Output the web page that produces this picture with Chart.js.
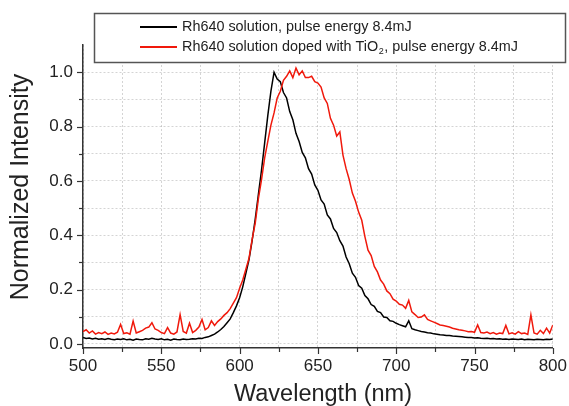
<!DOCTYPE html>
<html>
<head>
<meta charset="utf-8">
<script src="https://cdn.jsdelivr.net/npm/chart.js@4.4.1/dist/chart.umd.min.js"></script>
<style>
  html, body { margin: 0; padding: 0; background: #fff; }
  #wrap { width: 569px; height: 406px; position: relative; }
</style>
</head>
<body>
<div id="wrap"><canvas id="chart-canvas"></canvas></div>
<script>
// wavelength samples (nm), 2 nm apart
var WAVELENGTH = [
  500, 502, 504, 506, 508, 510, 512, 514, 516, 518,
  520, 522, 524, 526, 528, 530, 532, 534, 536, 538,
  540, 542, 544, 546, 548, 550, 552, 554, 556, 558,
  560, 562, 564, 566, 568, 570, 572, 574, 576, 578,
  580, 582, 584, 586, 588, 590, 592, 594, 596, 598,
  600, 602, 604, 606, 608, 610, 612, 614, 616, 618,
  620, 622, 624, 626, 628, 630, 632, 634, 636, 638,
  640, 642, 644, 646, 648, 650, 652, 654, 656, 658,
  660, 662, 664, 666, 668, 670, 672, 674, 676, 678,
  680, 682, 684, 686, 688, 690, 692, 694, 696, 698,
  700, 702, 704, 706, 708, 710, 712, 714, 716, 718,
  720, 722, 724, 726, 728, 730, 732, 734, 736, 738,
  740, 742, 744, 746, 748, 750, 752, 754, 756, 758,
  760, 762, 764, 766, 768, 770, 772, 774, 776, 778,
  780, 782, 784, 786, 788, 790, 792, 794, 796, 798,
  800
];

// Rh640 solution (black)
var RH640 = [
  .024, .020, .022, .018, .021, .017, .019, .016, .020, .017,
  .015, .018, .016, .019, .015, .017, .014, .018, .016, .015,
  .019, .017, .021, .018, .016, .019, .015, .017, .014, .018,
  .016, .015, .018, .016, .017, .019, .018, .021, .020, .024,
  .026, .031, .036, .044, .053, .064, .078, .092, .115, .140,
  .170, .210, .260, .310, .380, .460, .550, .640, .740, .840,
  .930, 1.00, .975, .965, .925, .905, .855, .825, .775, .745,
  .705, .685, .645, .625, .585, .565, .530, .515, .475, .460,
  .425, .410, .380, .360, .320, .295, .260, .245, .215, .205,
  .178, .166, .145, .138, .120, .115, .099, .097, .085, .083,
  .076, .071, .067, .063, .085, .056, .052, .049, .046, .044,
  .041, .040, .037, .036, .034, .033, .031, .031, .029, .028,
  .027, .026, .025, .024, .024, .022, .023, .021, .020, .021,
  .019, .020, .018, .019, .017, .018, .016, .018, .017, .016,
  .018, .015, .017, .016, .015, .017, .016, .015, .017, .016,
  .018
];

// Rh640 solution doped with TiO2 (red)
var RH640_TIO2 = [
  .045, .052, .040, .048, .036, .042, .038, .044, .035, .040,
  .037, .043, .072, .038, .041, .036, .084, .040, .045, .050,
  .058, .062, .078, .055, .050, .042, .038, .060, .040, .036,
  .044, .108, .046, .040, .076, .042, .050, .062, .090, .052,
  .060, .085, .068, .082, .092, .105, .115, .130, .150, .170,
  .205, .235, .275, .315, .385, .445, .535, .605, .685, .745,
  .805, .850, .905, .930, .970, .985, 1.005, .980, 1.015, .990,
  1.005, .980, .980, .985, .965, .960, .945, .905, .885, .830,
  .805, .765, .780, .695, .645, .605, .555, .525, .485, .455,
  .395, .345, .325, .285, .265, .235, .220, .195, .185, .165,
  .158, .146, .143, .131, .160, .118, .108, .097, .099, .107,
  .090, .085, .080, .075, .070, .068, .065, .062, .058, .055,
  .052, .050, .048, .045, .046, .043, .070, .042, .040, .044,
  .038, .042, .036, .040, .038, .068, .037, .041, .036, .045,
  .038, .040, .035, .107, .040, .036, .050, .038, .058, .040,
  .070
];

var X_TICKS = [500, 525, 550, 575, 600, 625, 650, 675, 700, 725, 750, 775, 800];
var Y_TICKS = [0, 0.1, 0.2, 0.3, 0.4, 0.5, 0.6, 0.7, 0.8, 0.9, 1.0];

var LABEL_BLACK = "Rh640 solution, pulse energy 8.4mJ";
var LABEL_RED = ["Rh640 solution doped with TiO", "2", ", pulse energy 8.4mJ"];

var FONT = "'Liberation Sans', Arial, sans-serif";
var INK = "#222";
var RED = "#f0190c";

function pts(ys) {
  return ys.map(function (y, i) { return { x: WAVELENGTH[i], y: y }; });
}

// ticks (major long, minor short), axis titles and the boxed legend
var decor = {
  id: "decor",
  afterDraw: function (chart) {
    var c = chart.ctx, a = chart.chartArea;
    var xs = chart.scales.x, ys = chart.scales.y;
    c.save();
    c.strokeStyle = "#333";
    c.lineWidth = 1.2;
    X_TICKS.forEach(function (v) {
      var px = Math.round(xs.getPixelForValue(v)) + 0.5;
      var len = v % 50 === 0 ? 6 : 4;
      c.beginPath(); c.moveTo(px, a.bottom); c.lineTo(px, a.bottom + len); c.stroke();
    });
    Y_TICKS.forEach(function (v) {
      var py = Math.round(ys.getPixelForValue(v)) + 0.5;
      var len = Math.round(v * 10) % 2 === 0 ? 6 : 4;
      c.beginPath(); c.moveTo(a.left - len, py); c.lineTo(a.left, py); c.stroke();
    });

    // axis titles
    c.fillStyle = INK;
    c.textAlign = "center";
    c.textBaseline = "alphabetic";
    c.font = "23.5px " + FONT;
    c.fillText("Wavelength (nm)", 323, 401);
    c.save();
    c.translate(21, 187);
    c.rotate(-Math.PI / 2);
    c.textBaseline = "middle";
    c.font = "25px " + FONT;
    c.fillText("Normalized Intensity", 0, 0);
    c.restore();

    // legend box
    c.fillStyle = "#fff";
    c.fillRect(94, 13, 472, 50);
    c.strokeStyle = "#555";
    c.lineWidth = 1.5;
    c.strokeRect(94.5, 13.5, 471, 49);
    c.lineWidth = 2;
    c.strokeStyle = "#000";
    c.beginPath(); c.moveTo(140, 27); c.lineTo(177, 27); c.stroke();
    c.strokeStyle = RED;
    c.beginPath(); c.moveTo(140, 47); c.lineTo(177, 47); c.stroke();

    c.fillStyle = INK;
    c.textAlign = "left";
    c.textBaseline = "middle";
    c.font = "14.4px " + FONT;
    c.fillText(LABEL_BLACK, 182, 27);
    var x = 182;
    c.fillText(LABEL_RED[0], x, 47);
    x += c.measureText(LABEL_RED[0]).width;
    c.font = "9px " + FONT;
    c.fillText(LABEL_RED[1], x + 0.5, 52);
    x += c.measureText(LABEL_RED[1]).width + 1;
    c.font = "14.4px " + FONT;
    c.fillText(LABEL_RED[2], x, 47);
    c.restore();
  }
};

function gridStyle() {
  return {
    color: "rgba(0,0,0,0.17)",
    lineWidth: 1,
    drawTicks: true,
    tickLength: 6,
    tickColor: "rgba(0,0,0,0)"
  };
}

new Chart(document.getElementById("chart-canvas").getContext("2d"), {
  type: "line",
  data: {
    datasets: [
      {
        label: LABEL_RED.join(""),
        data: pts(RH640_TIO2),
        borderColor: RED, backgroundColor: RED,
        borderWidth: 1.5, pointRadius: 0, tension: 0, order: 0
      },
      {
        label: LABEL_BLACK,
        data: pts(RH640),
        borderColor: "#000", backgroundColor: "#000",
        borderWidth: 1.5, pointRadius: 0, tension: 0, order: 1
      }
    ]
  },
  options: {
    responsive: true,
    maintainAspectRatio: false,
    animation: false,
    layout: { padding: { top: 45, right: 16, left: 0, bottom: 0 } },
    plugins: { legend: { display: false }, tooltip: { enabled: false } },
    scales: {
      x: {
        type: "linear", min: 500, max: 800,
        afterBuildTicks: function (s) { s.ticks = X_TICKS.map(function (v) { return { value: v }; }); },
        afterFit: function (s) { s.height = 58; },
        ticks: {
          color: INK, font: { size: 17, family: FONT }, padding: 2, maxRotation: 0, autoSkip: false,
          callback: function (v) { return v % 50 === 0 ? String(v) : ""; }
        },
        grid: gridStyle(),
        border: { display: true, color: "#333", width: 1.5, dash: [2, 2] }
      },
      y: {
        type: "linear", min: -0.015, max: 1.1,
        afterBuildTicks: function (s) { s.ticks = Y_TICKS.map(function (v) { return { value: v }; }); },
        afterFit: function (s) { s.width = 83; },
        ticks: {
          color: INK, font: { size: 17, family: FONT }, padding: 4, autoSkip: false,
          callback: function (v) { return Math.round(v * 10) % 2 === 0 ? v.toFixed(1) : ""; }
        },
        grid: gridStyle(),
        border: { display: true, color: "#333", width: 1.5, dash: [2, 2] }
      }
    }
  },
  plugins: [decor]
});
</script>
</body>
</html>
